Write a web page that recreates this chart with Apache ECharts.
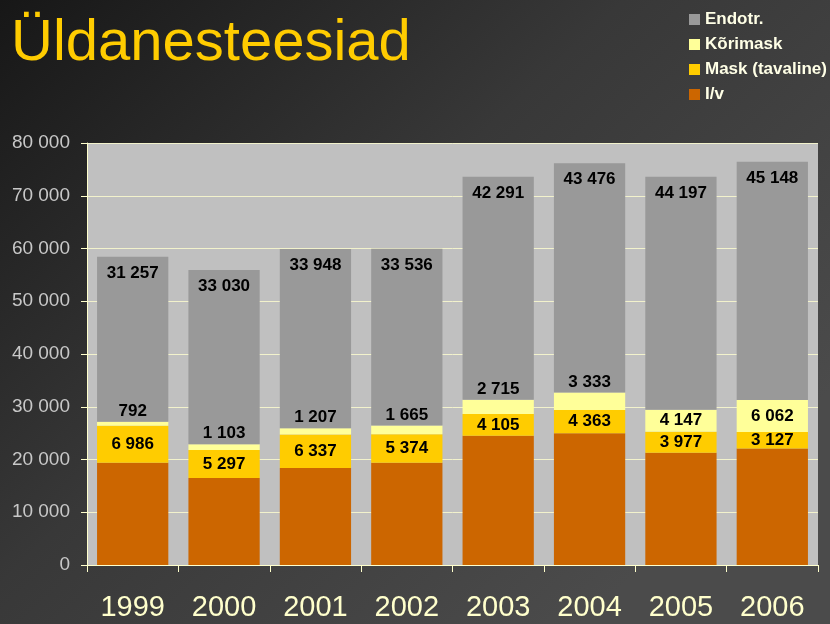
<!DOCTYPE html>
<html lang="et">
<head>
    <meta charset="UTF-8">
    <script type="text/javascript" src="https://cdn.jsdelivr.net/npm/echarts@6/dist/echarts.min.js"></script>
    <style>
        html, body { margin: 0; padding: 0; }
        #main { width: 830px; height: 624px; }
    </style>
</head>
<body>
    <div id="main"></div>
    <script type="text/javascript">
        // aastad ja andmed (I/v loetud pildilt, hinnanguline)
        var years = ['1999', '2000', '2001', '2002', '2003', '2004', '2005', '2006'];
        var iv = [19400, 16500, 18400, 19400, 24500, 25000, 21300, 22100];
        var mask = [6986, 5297, 6337, 5374, 4105, 4363, 3977, 3127];
        var korimask = [792, 1103, 1207, 1665, 2715, 3333, 4147, 6062];
        var endotr = [31257, 33030, 33948, 33536, 42291, 43476, 44197, 45148];
        // kõrimaski sildid, mis mahuvad tulba sisse
        var korimaskInside = ['2005', '2006'];

        function fmt(v) {
            return String(v).replace(/\B(?=(\d{3})+(?!\d))/g, ' ');
        }

        var labelStyle = {
            show: true,
            color: '#000',
            fontWeight: 'bold',
            fontSize: 17,
            fontFamily: 'Liberation Sans, Arial, sans-serif',
            formatter: function (p) { return fmt(p.value); }
        };

        var korimaskData = korimask.map(function (v, i) {
            var inside = korimaskInside.indexOf(years[i]) >= 0;
            return {
                value: v,
                label: { position: inside ? 'inside' : 'top', distance: 2 }
            };
        });

        var myChart = echarts.init(document.getElementById('main'));
        var option = {
            backgroundColor: {
                type: 'linear', x: 0, y: 0, x2: 0.7, y2: 1,
                colorStops: [
                    { offset: 0, color: '#171717' },
                    { offset: 0.5, color: '#383838' },
                    { offset: 1, color: '#4b4b4b' }
                ]
            },
            animation: false,
            title: {
                text: 'Üldanesteesiad',
                left: 6,
                top: 10,
                textStyle: {
                    color: '#FFCC00',
                    fontSize: 58,
                    fontWeight: 'normal',
                    fontFamily: 'Liberation Sans, Arial, sans-serif'
                }
            },
            legend: {
                orient: 'vertical',
                left: 684,
                top: 6,
                itemWidth: 11,
                itemHeight: 11,
                itemGap: 8,
                icon: 'rect',
                data: ['Endotr.', 'Kõrimask', 'Mask (tavaline)', 'I/v'],
                textStyle: {
                    color: '#FFFFE6',
                    fontWeight: 'bold',
                    fontSize: 17,
                    fontFamily: 'Liberation Sans, Arial, sans-serif'
                }
            },
            grid: {
                left: 87,
                right: 12,
                top: 143,
                bottom: 59,
                show: true,
                backgroundColor: '#C0C0C0',
                borderWidth: 0
            },
            xAxis: {
                type: 'category',
                data: years,
                axisLine: { lineStyle: { color: '#FFFFCC', width: 1 } },
                axisTick: { show: true, length: 7, lineStyle: { color: '#FFFFCC' } },
                axisLabel: {
                    color: '#FFFFCC',
                    fontSize: 29,
                    margin: 28,
                    fontFamily: 'Liberation Sans, Arial, sans-serif'
                }
            },
            yAxis: {
                type: 'value',
                min: 0,
                max: 80000,
                interval: 10000,
                axisLine: { show: true, lineStyle: { color: '#FFFFCC', width: 1 } },
                axisTick: { show: true, length: 6, lineStyle: { color: '#FFFFCC' } },
                splitLine: { lineStyle: { color: '#F2F2CC', width: 1 } },
                axisLabel: {
                    color: '#C8C8C8',
                    fontSize: 19,
                    margin: 17,
                    fontFamily: 'Liberation Sans, Arial, sans-serif',
                    formatter: function (v) { return fmt(v); }
                }
            },
            series: [
                {
                    name: 'I/v',
                    type: 'bar',
                    stack: 'kokku',
                    barCategoryGap: '22%',
                    itemStyle: { color: '#CC6600' },
                    data: iv
                },
                {
                    name: 'Mask (tavaline)',
                    type: 'bar',
                    stack: 'kokku',
                    itemStyle: { color: '#FFCC00' },
                    label: Object.assign({}, labelStyle, { position: 'inside' }),
                    data: mask
                },
                {
                    name: 'Kõrimask',
                    type: 'bar',
                    stack: 'kokku',
                    itemStyle: { color: '#FFFF99' },
                    label: labelStyle,
                    data: korimaskData
                },
                {
                    name: 'Endotr.',
                    type: 'bar',
                    stack: 'kokku',
                    itemStyle: { color: '#999999' },
                    label: Object.assign({}, labelStyle, { position: 'insideTop', distance: 8 }),
                    data: endotr
                }
            ]
        };
        myChart.setOption(option);
    </script>
</body>
</html>
